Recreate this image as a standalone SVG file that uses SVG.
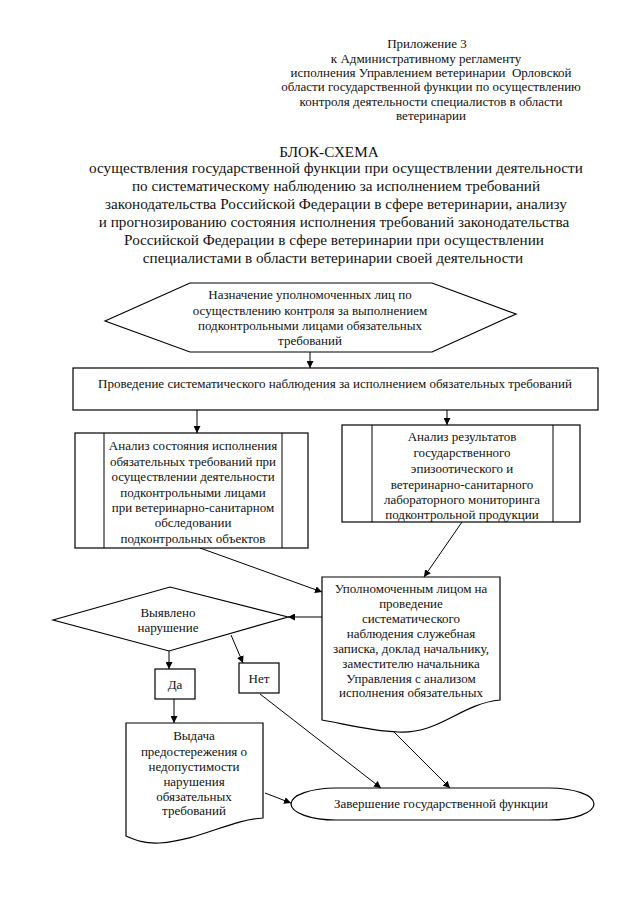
<svg xmlns="http://www.w3.org/2000/svg" width="640" height="905" viewBox="0 0 640 905">
<defs>
<marker id="ah" viewBox="0 0 10 10" refX="10" refY="5" markerWidth="7" markerHeight="7" markerUnits="userSpaceOnUse" orient="auto">
<path d="M0,0 L10,5 L0,10 Z" fill="#000"/>
</marker>
</defs>
<style>
text{font-family:"Liberation Serif","Times New Roman",serif;fill:#111;}
.t{font-size:13px;text-anchor:middle;}
.h{font-size:13px;text-anchor:middle;}
.ttl{font-size:15.2px;text-anchor:middle;}
.s{fill:#fff;stroke:#000;stroke-width:1.2;}
.c{fill:none;stroke:#000;stroke-width:1;marker-end:url(#ah);}
.l{fill:none;stroke:#000;stroke-width:1;}
</style>
<rect width="640" height="905" fill="#fff"/>
<g id="header">
<text class="h" x="427" y="48">Приложение 3</text>
<text class="h" x="426" y="63">к Административному регламенту</text>
<text class="h" x="431" y="77" xml:space="preserve">исполнения Управлением ветеринарии  Орловской</text>
<text class="h" x="431" y="91">области государственной функции по осуществлению</text>
<text class="h" x="431" y="106">контроля деятельности специалистов в области</text>
<text class="h" x="431" y="120">ветеринарии</text>
</g>
<g id="title">
<text class="ttl" x="329" y="157">БЛОК-СХЕМА</text>
<text class="ttl" x="336" y="173">осуществления государственной функции при осуществлении деятельности</text>
<text class="ttl" x="336" y="191">по систематическому наблюдению за исполнением требований</text>
<text class="ttl" x="336" y="209">законодательства Российской Федерации в сфере ветеринарии, анализу</text>
<text class="ttl" x="334" y="227">и прогнозированию состояния исполнения требований законодательства</text>
<text class="ttl" x="334" y="245">Российской Федерации в сфере ветеринарии при осуществлении</text>
<text class="ttl" x="333" y="263">специалистами в области ветеринарии своей деятельности</text>
</g>
<g id="connectors">
<line class="c" x1="310" y1="352" x2="310" y2="368"/>
<line class="c" x1="197" y1="410" x2="197" y2="433"/>
<line class="c" x1="447" y1="410" x2="447" y2="425"/>
<line class="c" x1="200" y1="548" x2="322" y2="592"/>
<line class="c" x1="462" y1="522" x2="424" y2="577"/>
<line class="c" x1="322" y1="617" x2="288" y2="617"/>
<line class="c" x1="169" y1="651" x2="169" y2="669"/>
<line class="c" x1="231" y1="635" x2="243" y2="663"/>
<line class="c" x1="174" y1="699" x2="174" y2="723"/>
<line class="c" x1="260" y1="694" x2="381" y2="788"/>
<line class="c" x1="393" y1="731" x2="450" y2="788"/>
<line class="c" x1="265" y1="793" x2="291" y2="803"/>
</g>
<g id="n1">
<polygon class="s" points="105,321 190,283 432,283 516,314 432,352 190,352"/>
<text class="t" x="310" y="299">Назначение уполномоченных лиц по</text>
<text class="t" x="310" y="315">осуществлению контроля за выполнением</text>
<text class="t" x="310" y="330">подконтрольными лицами обязательных</text>
<text class="t" x="310" y="345">требований</text>
</g>
<g id="n2">
<rect class="s" x="73" y="368" width="525" height="42"/>
<text class="t" x="335" y="388">Проведение систематического наблюдения за исполнением обязательных требований</text>
</g>
<g id="n3">
<rect class="s" x="75" y="433" width="233" height="115"/>
<line class="l" x1="104" y1="433" x2="104" y2="548"/>
<line class="l" x1="282" y1="433" x2="282" y2="548"/>
<text class="t" x="193" y="450">Анализ состояния исполнения</text>
<text class="t" x="193" y="466">обязательных требований при</text>
<text class="t" x="193" y="481">осуществлении деятельности</text>
<text class="t" x="193" y="497">подконтрольными лицами</text>
<text class="t" x="193" y="512">при ветеринарно-санитарном</text>
<text class="t" x="193" y="527">обследовании</text>
<text class="t" x="193" y="543">подконтрольных объектов</text>
</g>
<g id="n4">
<rect class="s" x="342" y="425" width="238" height="97"/>
<line class="l" x1="372" y1="425" x2="372" y2="522"/>
<line class="l" x1="553" y1="425" x2="553" y2="522"/>
<text class="t" x="462" y="441">Анализ результатов</text>
<text class="t" x="462" y="457">государственного</text>
<text class="t" x="462" y="473">эпизоотического и</text>
<text class="t" x="462" y="489">ветеринарно-санитарного</text>
<text class="t" x="462" y="504">лабораторного мониторинга</text>
<text class="t" x="462" y="519">подконтрольной продукции</text>
</g>
<g id="n5">
<path class="s" d="M322,577 H500 V700 C460,704 440,734 398,732 C370,731 345,724 322,720 Z"/>
<text class="t" x="411" y="593">Уполномоченным лицом на</text>
<text class="t" x="411" y="608">проведение</text>
<text class="t" x="411" y="623">систематического</text>
<text class="t" x="411" y="638">наблюдения служебная</text>
<text class="t" x="411" y="653">записка, доклад начальнику,</text>
<text class="t" x="411" y="668">заместителю начальника</text>
<text class="t" x="411" y="683">Управления с анализом</text>
<text class="t" x="411" y="697">исполнения обязательных</text>
</g>
<g id="n6">
<polygon class="s" points="53,620 170,587 288,617 169,651"/>
<text class="t" x="168" y="617">Выявлено</text>
<text class="t" x="168" y="632">нарушение</text>
</g>
<g id="n7">
<rect class="s" x="155" y="669" width="40" height="30"/>
<text class="t" x="175" y="689">Да</text>
</g>
<g id="n8">
<rect class="s" x="239" y="663" width="40" height="30"/>
<text class="t" x="259" y="683">Нет</text>
</g>
<g id="n9">
<path class="s" d="M126,723 H263 V818 C230,820 200,840 160,843 C145,844 135,840 126,836 Z"/>
<text class="t" x="194" y="740">Выдача</text>
<text class="t" x="194" y="756">предостережения о</text>
<text class="t" x="194" y="771">недопустимости</text>
<text class="t" x="194" y="786">нарушения</text>
<text class="t" x="194" y="801">обязательных</text>
<text class="t" x="194" y="815">требований</text>
</g>
<g id="n10">
<rect class="s" x="291" y="788" width="303" height="32" rx="45" ry="16"/>
<text class="t" x="441" y="808">Завершение государственной функции</text>
</g>
</svg>
